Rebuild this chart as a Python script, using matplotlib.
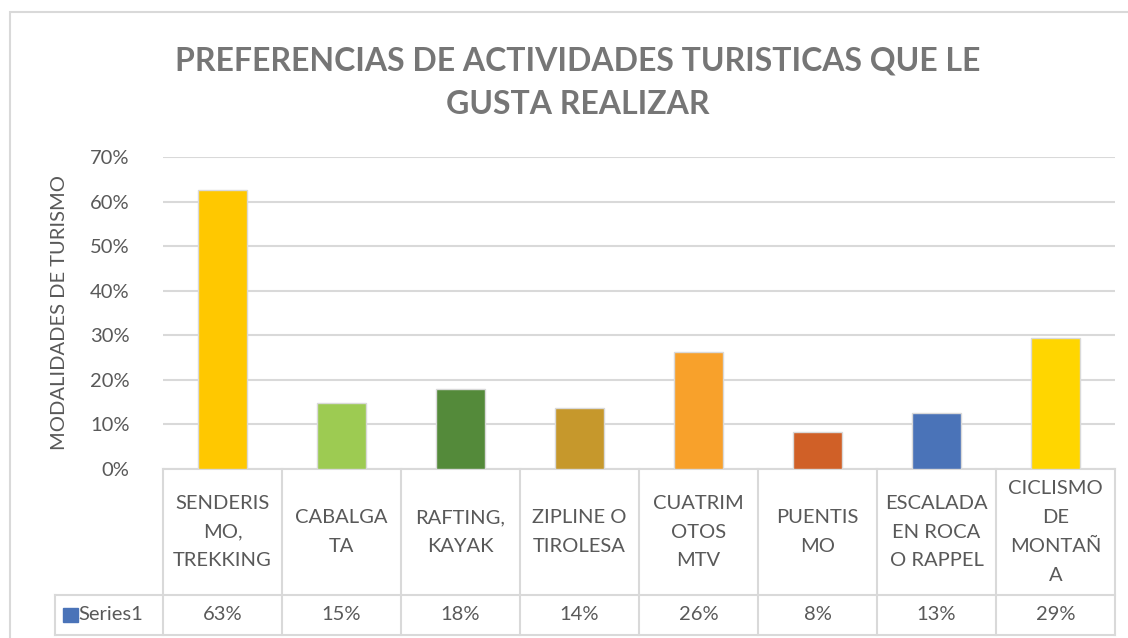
import matplotlib.pyplot as plt
from matplotlib.patches import Rectangle
import numpy as np

plt.rcParams['font.family'] = ['Lato', 'DejaVu Sans']

categorias = ['SENDERIS\nMO,\nTREKKING', 'CABALGA\nTA', 'RAFTING,\nKAYAK', 'ZIPLINE O\nTIROLESA',
              'CUATRIM\nOTOS\nMTV', 'PUENTIS\nMO', 'ESCALADA\nEN ROCA\nO RAPPEL', 'CICLISMO\nDE\nMONTAÑ\nA']
valores = [0.626, 0.148, 0.179, 0.137, 0.262, 0.083, 0.126, 0.294]
colores = ['#FFC800', '#9DCB52', '#548A3A', '#C6982C', '#F8A12B', '#D06027', '#4A73B8', '#FFD600']
serie = 'Series1'
yticks = [0, 0.1, 0.2, 0.3, 0.4, 0.5, 0.6, 0.7]

gris_txt = '#595959'
gris_lin = '#d9d9d9'
fs = 14.5

fig = plt.figure(figsize=(11.28, 6.38), dpi=100)
ax = fig.add_axes([163/1128, 1-469/638, (1115-163)/1128, (469-157)/638])

x = np.arange(len(valores))
ax.bar(x, valores, width=0.42, color=colores, edgecolor=gris_lin, linewidth=1, zorder=3)

ax.set_xlim(-0.5, len(valores)-0.5)
ax.set_ylim(0, 0.7)
ax.set_yticks(yticks)
ax.set_yticklabels([f'{int(round(t*100))}%' for t in yticks], fontsize=fs, color=gris_txt)
ax.tick_params(axis='y', length=0, pad=24)
ax.set_xticks([])
ax.grid(axis='y', color=gris_lin, linewidth=1.5, zorder=0)
for s in ax.spines.values():
    s.set_visible(False)
ax.set_ylabel('MODALIDADES DE TURISMO', fontsize=fs, color=gris_txt, labelpad=16)

# tabla de datos bajo el eje
tr = ax.get_xaxis_transform()
y_fila = -(595-469)/312
y_fin = -(635-469)/312
x_izq = -0.5 - 108/119
lk = dict(color=gris_lin, linewidth=1.5, clip_on=False, transform=tr, zorder=1)
ax.plot([-0.5, len(valores)-0.5], [0, 0], **lk)
ax.plot([x_izq, len(valores)-0.5], [y_fila, y_fila], **lk)
ax.plot([x_izq, len(valores)-0.5], [y_fin, y_fin], **lk)
ax.plot([x_izq, x_izq], [y_fila, y_fin], **lk)
for b in np.arange(len(valores)+1) - 0.5:
    ax.plot([b, b], [0, y_fin], **lk)

for i, (c, v) in enumerate(zip(categorias, valores)):
    ax.text(i, y_fila/2, c, transform=tr, ha='center', va='center', fontsize=fs,
            color=gris_txt, linespacing=1.85)
    ax.text(i, (y_fila+y_fin)/2, f'{v*100:.0f}%', transform=tr, ha='center', va='center',
            fontsize=fs, color=gris_txt)

ax.text(x_izq + 0.2, (y_fila+y_fin)/2, serie, transform=tr, ha='left', va='center',
        fontsize=fs, color=gris_txt)
ax.add_patch(Rectangle((x_izq + 0.07, (y_fila+y_fin)/2 - 0.024), 0.12, 0.048, transform=tr,
                       color=colores[6], clip_on=False))

fig.text(0.512, 0.870, 'PREFERENCIAS DE ACTIVIDADES TURISTICAS QUE LE\nGUSTA REALIZAR',
         ha='center', va='center', fontsize=23, fontweight='bold', color='#767676', linespacing=1.58)

# marco del grafico
fig.patches.append(Rectangle((10/1128, -0.1), 1.2, (638-12)/638 + 0.1, transform=fig.transFigure,
                             fill=False, edgecolor=gris_lin, linewidth=1.5))

fig.savefig('out.png', dpi=100)
